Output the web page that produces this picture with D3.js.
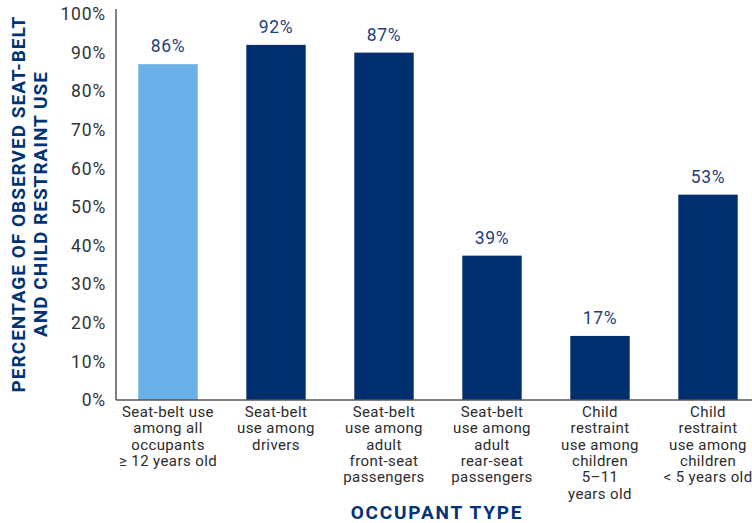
<!DOCTYPE html>
<html>
  <head>
    <meta charset="utf-8">
    <title>Seat-belt and child restraint use</title>
    <script src="https://d3js.org/d3.v7.min.js"></script>
    <style>
      body { margin: 0; background: #fff; }
      text { font-family: Roboto, "Noto Sans", sans-serif; }
    </style>
  </head>
  <body>
    <script>
      // bar heights, labels as printed
      var categories = [
        ["Seat-belt use", "among all", "occupants", "\u2265 12 years old"],
        ["Seat-belt", "use among", "drivers"],
        ["Seat-belt", "use among", "adult", "front-seat", "passengers"],
        ["Seat-belt", "use among", "adult", "rear-seat", "passengers"],
        ["Child", "restraint", "use among", "children", "5\u201311", "years old"],
        ["Child", "restraint", "use among", "children", "< 5 years old"]
      ];
      var values = [87, 92, 90, 37.4, 16.6, 53.2];
      var valueLabels = ["86%", "92%", "87%", "39%", "17%", "53%"];
      var yTicks = [0, 10, 20, 30, 40, 50, 60, 70, 80, 90, 100];

      var width = 752, height = 523;

      var svg = d3.select("body").append("svg")
        .attr("width", width)
        .attr("height", height);

      var x = d3.scaleBand()
        .domain(d3.range(categories.length))
        .range([114, 762])
        .paddingInner(0.45)
        .paddingOuter(0.225);

      var y = d3.scaleLinear().domain([0, 100]).range([400, 14]);

      // bars
      svg.selectAll("rect.bar")
        .data(values)
        .enter().append("rect")
          .attr("class", "bar")
          .attr("x", function(d, i) { return x(i); })
          .attr("width", x.bandwidth())
          .attr("y", function(d) { return y(d); })
          .attr("height", function(d) { return y(0) - y(d); })
          .attr("fill", function(d, i) { return i === 0 ? "#6ab0e9" : "#002f6f"; });

      // value labels
      svg.selectAll("text.val")
        .data(values)
        .enter().append("text")
          .attr("class", "val")
          .attr("x", function(d, i) { return x(i) + x.bandwidth() / 2; })
          .attr("y", function(d) { return y(d) - 12; })
          .attr("text-anchor", "middle")
          .attr("font-size", 17.5)
          .attr("letter-spacing", 0.6)
          .attr("fill", "#23407e")
          .text(function(d, i) { return valueLabels[i]; });

      // y axis
      var yAxis = svg.append("g")
        .attr("transform", "translate(116,0)")
        .call(d3.axisLeft(y).tickValues(yTicks).tickSize(0).tickPadding(10)
          .tickFormat(function(d) { return d + "%"; }));
      yAxis.select(".domain").attr("stroke", "#555").attr("stroke-width", 1.5)
        .attr("d", "M0,9V400");
      yAxis.selectAll("text").attr("font-size", 17.5).attr("fill", "#333")
        .attr("letter-spacing", 0.8)
        .style("font-family", "Roboto, sans-serif");

      // x axis line
      svg.append("line")
        .attr("x1", 116).attr("x2", width)
        .attr("y1", y(0)).attr("y2", y(0))
        .attr("stroke", "#555").attr("stroke-width", 1.5);

      // category labels
      var cat = svg.selectAll("text.cat")
        .data(categories)
        .enter().append("text")
          .attr("class", "cat")
          .attr("text-anchor", "middle")
          .attr("font-size", 15)
          .attr("letter-spacing", 0.4)
          .attr("fill", "#2b2b2b")
          .attr("transform", function(d, i) {
            return "translate(" + (x(i) + x.bandwidth() / 2) + ",417)";
          });
      cat.selectAll("tspan")
        .data(function(d) { return d; })
        .enter().append("tspan")
          .attr("x", 0)
          .attr("y", function(d, j) { return j * 16.3; })
          .text(function(d) { return d; });

      // axis titles
      svg.append("text")
        .attr("x", 437).attr("y", 519)
        .attr("text-anchor", "middle")
        .attr("font-size", 19).attr("font-weight", "bold")
        .attr("letter-spacing", 1.8)
        .attr("fill", "#003373")
        .text("OCCUPANT TYPE");

      var yTitle = svg.append("text")
        .attr("transform", "translate(0,204) rotate(-90)")
        .attr("text-anchor", "middle")
        .attr("font-size", 19).attr("font-weight", "bold")
        .attr("letter-spacing", 1)
        .attr("fill", "#003373");
      yTitle.append("tspan").attr("x", 0).attr("y", 25).text("PERCENTAGE OF OBSERVED SEAT-BELT");
      yTitle.append("tspan").attr("x", 0).attr("y", 47).text("AND CHILD RESTRAINT USE");
    </script>
  </body>
</html>
